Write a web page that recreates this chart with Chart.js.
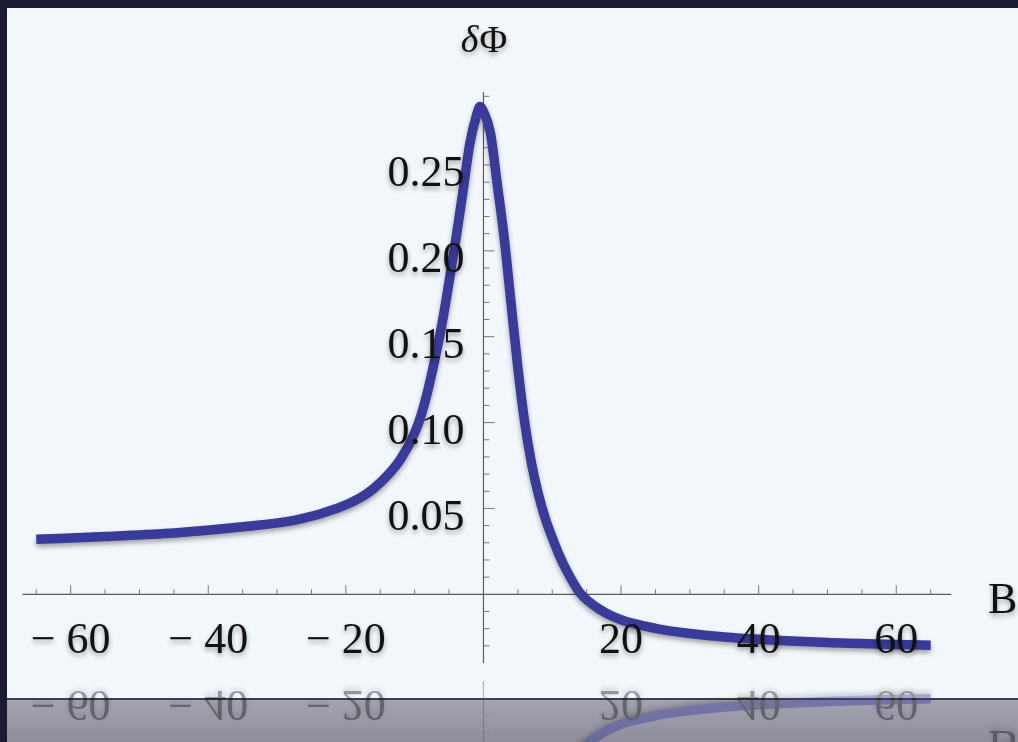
<!DOCTYPE html>
<html>
<head>
<meta charset="utf-8">
<script src="https://cdn.jsdelivr.net/npm/chart.js@4.4.1/dist/chart.umd.min.js"></script>
<style>
  body { margin: 0; width: 1018px; height: 742px; overflow: hidden; background: #1c1b33; position: relative; }
  #panel { position: absolute; left: 7px; top: 8px; width: 1011px; height: 690px; background: #f2f7fb; }
  #floor { position: absolute; left: 7px; top: 698px; width: 1011px; height: 44px;
           background: linear-gradient(#3e3e4c 0, #3e3e4c 2px, #a3a3b1 2px, #8d8d9b 100%); }
  #plot { position: absolute; left: 0; top: 0; }
</style>
</head>
<body>
<div id="panel"></div>
<div id="floor"></div>
<canvas id="plot" width="1018" height="742"></canvas>
<script>
// Đường cong δΦ theo từ trường B
const fieldB = [-65, -55, -45, -35, -27, -21, -18, -16, -14, -12,
  -10, -9, -8, -7, -6, -5, -4, -3, -2, -1,
  -0.5, 0, 1, 2, 3, 4, 5, 6, 7, 8,
  9, 10, 11, 12, 14, 17, 20, 25, 30, 35,
  40, 50, 60, 65];
const deltaPhi = [0.032, 0.0337, 0.0357, 0.0393, 0.0435, 0.0505, 0.056, 0.0615, 0.069, 0.079,
  0.094, 0.105, 0.12, 0.138, 0.158, 0.182, 0.207, 0.234, 0.262, 0.279,
  0.284, 0.281, 0.269, 0.239, 0.208, 0.170, 0.132, 0.100, 0.076, 0.058,
  0.044, 0.033, 0.023, 0.0145, 0.001, -0.009, -0.0148, -0.0198, -0.0228, -0.0248,
  -0.0262, -0.0281, -0.0292, -0.0297];

// Vạch chia trục
const xTickValues = [-60, -40, -20, 20, 40, 60];
const xTickLabels = ["\u2212 60", "\u2212 40", "\u2212 20", "20", "40", "60"];
const xMinorStep = 5;
const yTickValues = [0.05, 0.10, 0.15, 0.20, 0.25];
const yTickLabels = ["0.05", "0.10", "0.15", "0.20", "0.25"];
const yMinorStep = 0.01;

const xRange = [-67, 68];
const yRange = [-0.04, 0.2925];

const serif = '"Liberation Serif", "DejaVu Serif", serif';
const curveColor = "#3a3a9a";

function setShadow(ctx) {
  ctx.shadowColor = "rgba(0,0,0,0.35)";
  ctx.shadowBlur = 5;
  ctx.shadowOffsetY = 3;
}

// Trục kiểu Mathematica: hai trục cắt nhau tại gốc, vạch hướng vào trong
const axesPlugin = {
  id: "axes",
  beforeDatasetsDraw(chart) {
    const ctx = chart.ctx;
    const xs = chart.scales.x, ys = chart.scales.y;
    const x0 = xs.getPixelForValue(0), y0 = ys.getPixelForValue(0);
    ctx.save();
    ctx.strokeStyle = "#5c5c5c";
    ctx.lineWidth = 1.2;
    ctx.beginPath();
    ctx.moveTo(xs.left, y0); ctx.lineTo(xs.right, y0);
    ctx.moveTo(x0, ys.top); ctx.lineTo(x0, ys.bottom);
    ctx.stroke();

    ctx.strokeStyle = "#777";
    ctx.lineWidth = 1;
    ctx.beginPath();
    for (let v = -65; v <= 65; v += xMinorStep) {
      if (v === 0) continue;
      const px = xs.getPixelForValue(v);
      const len = v % 20 === 0 ? 9 : 5;
      ctx.moveTo(px, y0); ctx.lineTo(px, y0 - len);
    }
    for (let i = -3; i <= 29; i++) {
      if (i === 0) continue;
      const py = ys.getPixelForValue(i * yMinorStep);
      const len = i % 5 === 0 ? 11 : 6;
      ctx.moveTo(x0, py); ctx.lineTo(x0 + len, py);
    }
    ctx.stroke();
    ctx.restore();

    ctx.save();
    setShadow(ctx);
  },
  afterDatasetsDraw(chart) {
    const ctx = chart.ctx;
    ctx.restore();
    const xs = chart.scales.x, ys = chart.scales.y;
    const x0 = xs.getPixelForValue(0), y0 = ys.getPixelForValue(0);
    ctx.save();
    setShadow(ctx);
    ctx.fillStyle = "#111";
    ctx.textBaseline = "alphabetic";
    ctx.font = "44px " + serif;
    ctx.textAlign = "center";
    xTickValues.forEach((v, i) => {
      ctx.fillText(xTickLabels[i], xs.getPixelForValue(v), y0 + 59);
    });
    ctx.textAlign = "right";
    yTickValues.forEach((v, i) => {
      ctx.fillText(yTickLabels[i], x0 - 19, ys.getPixelForValue(v) + 21.5);
    });
    // nhãn trục
    ctx.textAlign = "left";
    ctx.fillText("B", 988, y0 + 19);
    ctx.font = "italic 38px " + serif;
    const wd = ctx.measureText("δ").width;
    ctx.font = "38px " + serif;
    const wf = ctx.measureText("Φ").width;
    const start = x0 - (wd + wf) / 2;
    ctx.font = "italic 38px " + serif;
    ctx.fillText("δ", start, 52);
    ctx.font = "38px " + serif;
    ctx.fillText("Φ", start + wd + 1, 52);
    ctx.restore();
  },
  // bóng phản chiếu bên dưới khung
  afterDraw(chart) {
    const ctx = chart.ctx;
    const c = chart.canvas;
    const mirror = 672;
    ctx.save();
    ctx.beginPath();
    ctx.rect(0, mirror, c.width, c.height - mirror);
    ctx.clip();
    ctx.globalAlpha = 0.42;
    ctx.translate(0, 2 * mirror);
    ctx.scale(1, -1);
    ctx.drawImage(c, 0, 0);
    ctx.restore();
  }
};

const ctx = document.getElementById("plot").getContext("2d");
new Chart(ctx, {
  type: "line",
  data: {
    datasets: [{
      data: fieldB.map((b, i) => ({ x: b, y: deltaPhi[i] })),
      borderColor: curveColor,
      borderWidth: 9.5,
      borderCapStyle: "butt",
      borderJoinStyle: "round",
      cubicInterpolationMode: "monotone",
      pointRadius: 0,
      fill: false,
      clip: false
    }]
  },
  options: {
    responsive: false,
    animation: false,
    events: [],
    layout: { padding: { left: 22.5, right: 66.7, top: 92, bottom: 79 } },
    plugins: { legend: { display: false }, tooltip: { enabled: false } },
    scales: {
      x: { type: "linear", min: xRange[0], max: xRange[1], display: false },
      y: { type: "linear", min: yRange[0], max: yRange[1], display: false }
    }
  },
  plugins: [axesPlugin]
});
</script>
</body>
</html>
